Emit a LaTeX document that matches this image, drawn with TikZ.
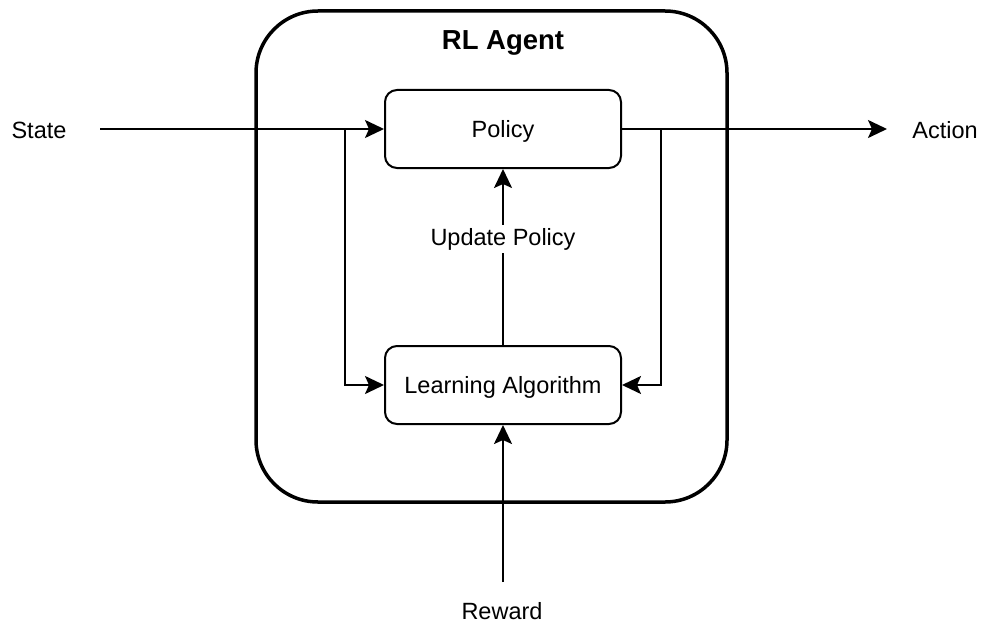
\documentclass[tikz,border=0pt]{standalone}
\usepackage{fontspec}
\setmainfont{Liberation Sans}
\usetikzlibrary{arrows.meta}
\begin{document}
\begin{tikzpicture}[x=1pt,y=-1pt,
  lbl/.style={font=\fontsize{23.5}{28}\selectfont, inner sep=0pt},
  blk/.style={draw, line width=2pt, rounded corners=12pt, minimum width=236pt, minimum height=78pt, text height=17pt, text depth=0pt, font=\fontsize{23.5}{28}\selectfont},
  flow/.style={line width=2pt, -{Stealth[length=19pt,width=18pt,inset=4pt]}}]
\useasboundingbox (0,0) rectangle (981,623);
% agent frame
\draw[line width=3.5pt, rounded corners=62pt] (256,11) rectangle (727,502);
\node[font=\fontsize{27.5}{32}\selectfont\bfseries] (title) at (503,43) {RL Agent};
% blocks
\node[blk] (policy) at (503,129) {Policy};
\node[blk] (learn) at (503,385) {Learning Algorithm};
% outer labels
\node[lbl] (state) at (39,130) {State};
\node[lbl] (action) at (945,130) {Action};
\node[lbl] (reward) at (502,611) {Reward};
\coordinate (stateend) at (100,129);
\coordinate (actend) at (887,129);
\coordinate (rewend) at (503,582);
\coordinate (splitL) at (345,129);
\coordinate (splitR) at (661,129);
% connectors
\draw[flow] (stateend) -- (policy.west);
\draw[flow] (policy.east) -- (actend);
\draw[flow] (splitL) |- (learn.west);
\draw[flow] (splitR) |- (learn.east);
\draw[flow] (rewend) -- (learn.south);
\draw[flow] (learn.north) -- node[pos=0.6, lbl, fill=white, inner sep=3pt] (upd) {Update Policy} (policy.south);
\end{tikzpicture}
\end{document}
